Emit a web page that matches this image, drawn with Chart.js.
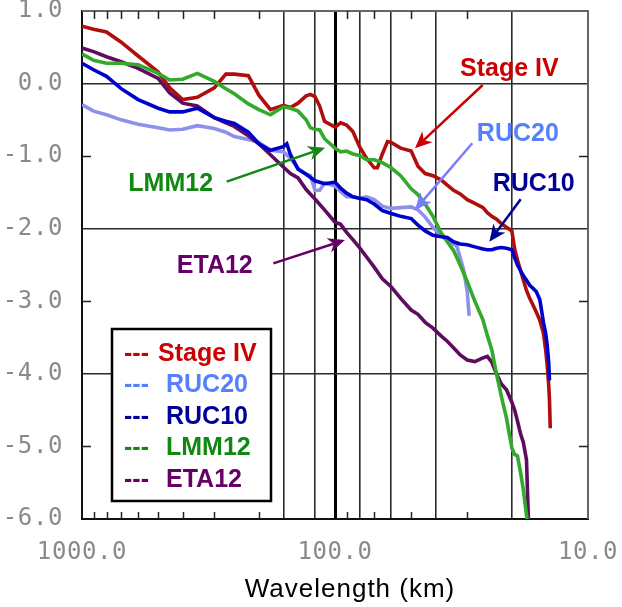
<!DOCTYPE html>
<html><head><meta charset="utf-8">
<script src="https://cdn.jsdelivr.net/npm/chart.js@4.4.1/dist/chart.umd.min.js"></script>
<style>html,body{margin:0;padding:0;background:#fff;}canvas{display:block;}</style>
</head><body>
<canvas id="c" width="622" height="607"></canvas>
<script>
// ---------- data (wavelength in km, log10 power value) ----------
const seriesNames = ['Stage IV', 'RUC20', 'RUC10', 'LMM12', 'ETA12'];

const stageIVWavelength = [1000, 900, 800, 700, 600, 500, 450, 400, 350, 300, 270, 250, 220, 200, 180, 160, 150, 140, 130, 125, 120, 115, 110, 100, 95, 90, 85, 80, 75, 70, 68, 65, 62, 60, 55, 50, 47, 44, 41, 38, 36, 34, 32, 30, 28, 26, 25, 24, 23, 22, 21, 20, 19.5, 19, 18, 17.5, 17, 16.5, 16, 15.5, 15, 14.7, 14.5, 14.3, 14.2, 14.1];
const stageIV = [0.79, 0.75, 0.71, 0.57, 0.38, 0.16, -0.06, -0.22, -0.19, -0.06, 0.13, 0.13, 0.11, -0.16, -0.36, -0.30, -0.33, -0.27, -0.17, -0.15, -0.18, -0.31, -0.52, -0.60, -0.54, -0.57, -0.66, -0.87, -1.03, -1.16, -1.16, -0.97, -0.80, -0.81, -0.89, -0.93, -1.14, -1.24, -1.27, -1.33, -1.40, -1.47, -1.52, -1.60, -1.65, -1.71, -1.78, -1.83, -1.87, -1.93, -1.98, -2.03, -2.28, -2.43, -2.71, -2.85, -2.96, -3.05, -3.15, -3.26, -3.44, -3.67, -3.88, -4.15, -4.36, -4.75];

const ruc20Wavelength = [1000, 900, 800, 700, 600, 500, 450, 400, 350, 300, 270, 250, 220, 200, 180, 160, 150, 140, 130, 125, 120, 115, 110, 100, 95, 90, 85, 80, 75, 70, 65, 60, 55, 50, 47, 44, 41, 38, 36, 34, 33, 32, 31, 30, 29.5];
const ruc20 = [-0.29, -0.38, -0.43, -0.50, -0.56, -0.61, -0.64, -0.63, -0.58, -0.62, -0.67, -0.73, -0.77, -0.81, -0.92, -0.94, -1.03, -1.17, -1.25, -1.27, -1.47, -1.47, -1.37, -1.41, -1.49, -1.56, -1.56, -1.58, -1.56, -1.60, -1.69, -1.72, -1.71, -1.70, -1.74, -1.84, -1.98, -2.10, -2.16, -2.21, -2.24, -2.40, -2.57, -2.87, -3.20];

const ruc10Wavelength = [1000, 900, 800, 700, 600, 500, 450, 400, 350, 300, 270, 250, 220, 200, 180, 160, 155, 150, 140, 130, 120, 110, 100, 95, 90, 85, 80, 75, 70, 65, 60, 55, 50, 47, 44, 41, 38, 36, 34, 32, 30, 28, 26, 25, 24, 23, 22, 21, 20, 19.5, 19, 18, 17.5, 17, 16.5, 16, 15.5, 15, 14.7, 14.5, 14.3, 14.2];
const ruc10 = [0.28, 0.19, 0.10, -0.07, -0.22, -0.34, -0.39, -0.39, -0.34, -0.47, -0.52, -0.55, -0.67, -0.83, -0.92, -0.87, -0.83, -0.98, -1.18, -1.25, -1.34, -1.38, -1.36, -1.44, -1.51, -1.56, -1.58, -1.60, -1.66, -1.75, -1.79, -1.83, -1.86, -1.95, -2.03, -2.09, -2.11, -2.12, -2.18, -2.21, -2.22, -2.25, -2.28, -2.29, -2.29, -2.27, -2.26, -2.27, -2.29, -2.40, -2.50, -2.65, -2.71, -2.78, -2.82, -2.87, -2.98, -3.29, -3.44, -3.60, -3.84, -4.09];

const lmm12Wavelength = [1000, 900, 800, 700, 600, 500, 450, 400, 350, 300, 270, 250, 220, 200, 180, 160, 150, 140, 130, 125, 120, 115, 110, 100, 95, 90, 85, 80, 75, 70, 65, 60, 55, 50, 47, 44, 41, 38, 36, 34, 32, 30, 28, 26, 25, 24, 23, 22, 21, 20, 19.5, 19, 18.5, 18, 17.5, 17.4];
const lmm12 = [0.41, 0.32, 0.28, 0.28, 0.26, 0.14, 0.05, 0.06, 0.14, 0.03, -0.07, -0.14, -0.28, -0.36, -0.43, -0.32, -0.34, -0.38, -0.50, -0.61, -0.63, -0.64, -0.76, -0.89, -0.94, -0.93, -0.97, -0.99, -1.05, -1.05, -1.09, -1.16, -1.27, -1.45, -1.53, -1.66, -1.83, -2.06, -2.18, -2.30, -2.50, -2.73, -3.00, -3.26, -3.47, -3.67, -4.00, -4.31, -4.61, -5.02, -5.11, -5.13, -5.35, -5.60, -5.95, -6.00];

const eta12Wavelength = [1000, 900, 800, 700, 600, 500, 450, 400, 350, 300, 270, 250, 220, 200, 180, 160, 150, 140, 130, 120, 110, 100, 95, 90, 85, 80, 75, 70, 65, 60, 55, 50, 47, 44, 41, 38, 36, 34, 32, 30, 28, 26, 25, 24, 23, 22, 21, 20, 19.5, 19, 18.5, 18, 17.5, 17.3, 17.2];
const eta12 = [0.49, 0.44, 0.37, 0.30, 0.21, 0.07, -0.13, -0.27, -0.31, -0.47, -0.54, -0.59, -0.72, -0.83, -0.98, -1.15, -1.24, -1.30, -1.46, -1.59, -1.74, -1.91, -1.94, -2.05, -2.15, -2.26, -2.39, -2.53, -2.69, -2.80, -2.96, -3.12, -3.18, -3.29, -3.37, -3.48, -3.55, -3.64, -3.74, -3.81, -3.83, -3.78, -3.76, -3.84, -4.00, -4.14, -4.22, -4.39, -4.50, -4.65, -4.82, -4.95, -5.19, -5.74, -6.00];

// axis ticks
const xLabelTicks = [1000, 100, 10];
const xGridLines = [160, 120, 100, 80, 60, 40, 20];
const xMinorTicks = [900, 800, 700, 600, 500, 400, 300, 200, 90, 70, 50, 30];
const yGridLines = [0, -2, -4];
const yMinorTicks = [-1, -3, -5];

// ---------- styles ----------
const lineColors = ['#b00d0d', '#8f8fec', '#0000cc', '#33aa2a', '#5e0c5e'];
const textColors = ['#cc0000', '#5580ff', '#000099', '#118811', '#660066'];
const drawOrder = [4, 3, 0, 1, 2];

const annotations = [
  {s: 0, tx: 32.06, ty: 0.111, from: [26.07, -0.02], to: [48.3, -0.892], arrow: '#cc0000'},
  {s: 1, tx: 27.5, ty: -0.791, from: [28.67, -0.823], to: [48.3, -1.742], arrow: '#7b7bff'},
  {s: 2, tx: 23.8, ty: -1.48, from: [18.45, -1.595], to: [24.55, -2.179], arrow: '#000099'},
  {s: 3, tx: 656, ty: -1.48, from: [268, -1.352], to: [109.5, -0.884], arrow: '#118811'},
  {s: 4, tx: 422, ty: -2.61, from: [175.3, -2.477], to: [91.3, -2.156], arrow: '#660066'}
];

function pts(xs, ys) { return xs.map((x, i) => ({x: x, y: ys[i]})); }
const seriesData = [
  pts(stageIVWavelength, stageIV),
  pts(ruc20Wavelength, ruc20),
  pts(ruc10Wavelength, ruc10),
  pts(lmm12Wavelength, lmm12),
  pts(eta12Wavelength, eta12)
];

function drawArrow(ctx, x1, y1, x2, y2, color) {
  const a = Math.atan2(y2 - y1, x2 - x1);
  const L = 17, W = 7.5;
  const c = Math.cos(a), s = Math.sin(a);
  const bx = x2 - L * c, by = y2 - L * s;
  ctx.strokeStyle = color; ctx.fillStyle = color; ctx.lineWidth = 2.5;
  ctx.beginPath(); ctx.moveTo(x1, y1); ctx.lineTo(bx + 5 * c, by + 5 * s); ctx.stroke();
  ctx.beginPath();
  ctx.moveTo(x2, y2);
  ctx.lineTo(bx - W * s, by + W * c);
  ctx.lineTo(bx + 5 * c, by + 5 * s);
  ctx.lineTo(bx + W * s, by - W * c);
  ctx.closePath(); ctx.fill();
}

const extras = {
  id: 'extras',
  beforeDraw(chart) { chart.ctx.letterSpacing = '0.6px'; },
  beforeDatasetsDraw(chart) {
    const {ctx, chartArea: a, scales: {x, y}} = chart;
    ctx.save();
    ctx.strokeStyle = '#666'; ctx.lineWidth = 2;
    ctx.beginPath(); ctx.moveTo(a.left, a.top); ctx.lineTo(a.right, a.top); ctx.lineTo(a.right, a.bottom); ctx.stroke();
    ctx.strokeStyle = '#222'; ctx.lineWidth = 1.5;
    ctx.beginPath();
    xMinorTicks.forEach(v => {
      const p = Math.round(x.getPixelForValue(v)) + 0.5;
      ctx.moveTo(p, a.top); ctx.lineTo(p, a.top + 8);
      ctx.moveTo(p, a.bottom); ctx.lineTo(p, a.bottom - 7);
    });
    yMinorTicks.forEach(v => {
      const p = Math.round(y.getPixelForValue(v)) + 0.5;
      ctx.moveTo(a.left, p); ctx.lineTo(a.left + 9, p);
      ctx.moveTo(a.right, p); ctx.lineTo(a.right - 9, p);
    });
    ctx.stroke();
    ctx.restore();
  },
  afterDraw(chart) {
    const {ctx, chartArea: a, scales: {x, y}} = chart;
    ctx.save();
    ctx.letterSpacing = '0px';
    // annotations
    ctx.font = 'bold 25px "Liberation Sans", Arial, sans-serif';
    ctx.textBaseline = 'alphabetic'; ctx.textAlign = 'left';
    annotations.forEach(an => {
      drawArrow(ctx, x.getPixelForValue(an.from[0]), y.getPixelForValue(an.from[1]),
                x.getPixelForValue(an.to[0]), y.getPixelForValue(an.to[1]), an.arrow);
      ctx.fillStyle = textColors[an.s];
      ctx.fillText(seriesNames[an.s], x.getPixelForValue(an.tx), y.getPixelForValue(an.ty));
    });
    // legend box
    const bl = a.left + 30, bt = a.top + 318, bw = 159, bh = 172;
    ctx.fillStyle = '#fff'; ctx.fillRect(bl, bt, bw, bh);
    ctx.strokeStyle = '#000'; ctx.lineWidth = 2.5; ctx.strokeRect(bl, bt, bw, bh);
    seriesNames.forEach((n, i) => {
      const base = bt + 32 + i * 31.4;
      ctx.fillStyle = textColors[i];
      ctx.fillText('---', bl + 12, base);
      ctx.fillText(n, bl + (i === 0 ? 46 : 54), base);
    });
    // axis title
    ctx.letterSpacing = '1px';
    ctx.font = '26px "Liberation Sans", Arial, sans-serif';
    ctx.fillStyle = '#000'; ctx.textAlign = 'center';
    ctx.fillText('Wavelength (km)', (a.left + a.right) / 2 + 15, 597);
    ctx.restore();
  }
};

const tickFont = {family: '"DejaVu Sans Mono", monospace', size: 24};
const clear = 'rgba(0,0,0,0)';

new Chart(document.getElementById('c'), {
  type: 'line',
  data: {
    datasets: seriesNames.map((n, i) => ({
      label: n, data: seriesData[i], borderColor: lineColors[i], backgroundColor: lineColors[i],
      borderWidth: 3.6, pointRadius: 0, fill: false, tension: 0, order: drawOrder[i]
    }))
  },
  options: {
    responsive: false, animation: false, devicePixelRatio: 1,
    layout: {padding: {top: 11, right: 34, bottom: 0, left: 0}},
    plugins: {legend: {display: false}, tooltip: {enabled: false}},
    scales: {
      x: {
        type: 'logarithmic', reverse: true, min: 10, max: 1000,
        afterBuildTicks: s => { s.ticks = [...new Set([...xLabelTicks, ...xGridLines])].sort((p, q) => p - q).map(v => ({value: v})); },
        afterFit: s => { s.height = 88; s.paddingLeft = 0; s.paddingRight = 0; },
        ticks: {autoSkip: false, maxRotation: 0, minRotation: 0, padding: 19, color: '#8a8a8a', font: tickFont,
          callback: v => xLabelTicks.includes(v) ? Number(v).toFixed(1) : ''},
        grid: {drawTicks: false,
          color: c => { const v = c.tick && c.tick.value; if (v === 100) return '#000'; if (v === 10) return '#555'; return xGridLines.includes(v) ? '#2a2a2a' : clear; },
          lineWidth: c => { const v = c.tick && c.tick.value; return v === 100 ? 3 : (v === 10 ? 2 : 1.6); }},
        border: {display: true, color: '#111', width: 2}
      },
      y: {
        min: -6, max: 1,
        afterFit: s => { s.width = 82; s.paddingTop = 0; s.paddingBottom = 0; },
        ticks: {stepSize: 1, padding: 19, color: '#8a8a8a', font: tickFont, callback: v => Number(v).toFixed(1)},
        grid: {drawTicks: false,
          color: c => { const v = c.tick && c.tick.value; if (v === 1) return '#777'; return yGridLines.includes(v) ? '#2a2a2a' : clear; },
          lineWidth: 1.6},
        border: {display: true, color: '#111', width: 2}
      }
    }
  },
  plugins: [extras]
});
</script>
</body></html>
